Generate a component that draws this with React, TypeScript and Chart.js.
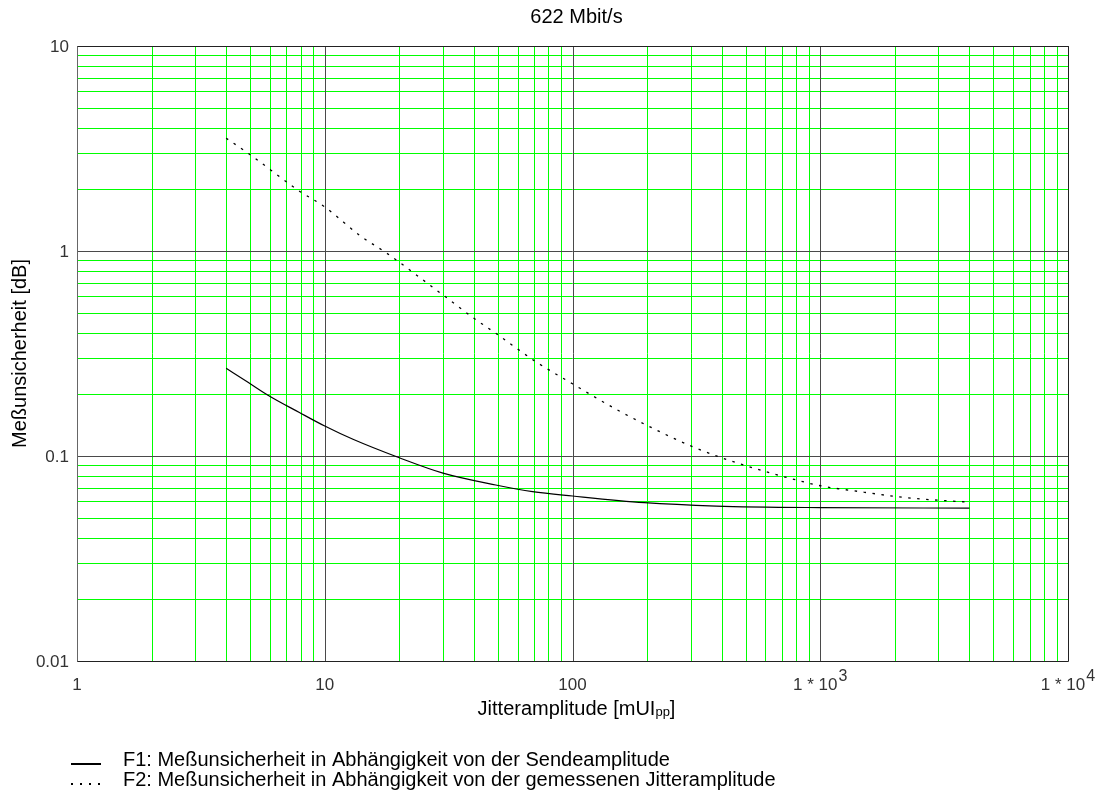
import { useEffect, useRef } from "react";
import { Chart, registerables } from "chart.js";

Chart.register(...registerables);

// ---- data ----
const titleText = "622 Mbit/s";
const yAxisTitle = "Meßunsicherheit [dB]";
const xAxisTitleMain = "Jitteramplitude [mUI";
const xAxisTitleSub = "pp";
const xAxisTitleEnd = "]";

const f1Label = "F1: Meßunsicherheit in Abhängigkeit von der Sendeamplitude";
const f2Label = "F2: Meßunsicherheit in Abhängigkeit von der gemessenen Jitteramplitude";

const f1X = [4, 4.9, 5.9, 7.9, 10, 13, 20, 30, 49, 69, 100, 195, 380, 1000, 4000];
const f1Y = [0.268, 0.229, 0.198, 0.163, 0.14, 0.1206, 0.098, 0.0825, 0.0722, 0.067, 0.0638, 0.0592, 0.057, 0.056, 0.0557];

const f2X = [4, 5, 7.8, 10, 14, 17.7, 30, 40, 50, 70, 100, 150, 200, 300, 400, 600, 850, 1000, 1500, 2200, 4000];
const f2Y = [3.55, 2.95, 1.98, 1.64, 1.18, 0.98, 0.61, 0.47, 0.39, 0.292, 0.225, 0.169, 0.141, 0.112, 0.098, 0.084, 0.075, 0.0716, 0.0666, 0.0627, 0.0595];

const xDecades = [1, 10, 100, 1000, 10000];
const yDecades = [0.01, 0.1, 1, 10];
const gridMultipliers = [2, 3, 4, 5, 6, 7, 8, 9];

const xTickText = ["1", "10", "100", "1 * 10", "1 * 10"];
const xTickExp = ["", "", "", "3", "4"];
const yTickText = ["0.01", "0.1", "1", "10"];

// ---- helpers ----
const FONT = '"Liberation Sans", Arial, sans-serif';
const MINOR_COLOR = "#00ff00";
const MAJOR_COLOR = "#4a4a4a";

function minorValues(decades: number[]): number[] {
  const out: number[] = [];
  for (let i = 0; i < decades.length - 1; i++) {
    for (const m of gridMultipliers) out.push(decades[i] * m);
  }
  return out;
}

const gridPlugin = {
  id: "customGrid",
  beforeDatasetsDraw(chart: any) {
    const ctx: CanvasRenderingContext2D = chart.ctx;
    const xs = chart.scales.x;
    const ys = chart.scales.y;
    const ca = chart.chartArea;
    const al = (p: number) => Math.round(p) + 0.5;
    ctx.save();
    ctx.lineWidth = 1;
    // minor
    ctx.strokeStyle = MINOR_COLOR;
    ctx.beginPath();
    for (const v of minorValues(xDecades)) {
      const p = al(xs.getPixelForValue(v));
      ctx.moveTo(p, ca.top);
      ctx.lineTo(p, ca.bottom);
    }
    for (const v of minorValues(yDecades)) {
      const p = al(ys.getPixelForValue(v));
      ctx.moveTo(ca.left, p);
      ctx.lineTo(ca.right, p);
    }
    ctx.stroke();
    // major
    ctx.strokeStyle = MAJOR_COLOR;
    ctx.beginPath();
    for (const v of xDecades) {
      const p = al(xs.getPixelForValue(v));
      ctx.moveTo(p, ca.top);
      ctx.lineTo(p, ca.bottom);
    }
    for (const v of yDecades) {
      const p = al(ys.getPixelForValue(v));
      ctx.moveTo(ca.left, p);
      ctx.lineTo(ca.right, p);
    }
    ctx.stroke();
    // frame
    ctx.strokeStyle = "#222";
    ctx.beginPath();
    const l = al(ca.left), r = al(ca.right), t = al(ca.top), b = al(ca.bottom);
    ctx.moveTo(l, t);
    ctx.lineTo(r, t);
    ctx.moveTo(r, t);
    ctx.lineTo(r, b);
    ctx.moveTo(l, b);
    ctx.lineTo(r, b);
    ctx.stroke();
    ctx.strokeStyle = "#666";
    ctx.beginPath();
    ctx.moveTo(l, t);
    ctx.lineTo(l, b);
    ctx.stroke();
    ctx.restore();
  },
};

const labelsPlugin = {
  id: "customLabels",
  afterDraw(chart: any) {
    const ctx: CanvasRenderingContext2D = chart.ctx;
    const xs = chart.scales.x;
    const ys = chart.scales.y;
    const ca = chart.chartArea;
    const cx = (ca.left + ca.right) / 2 + 4;
    ctx.save();

    // title
    ctx.fillStyle = "#000";
    ctx.font = `20px ${FONT}`;
    ctx.textAlign = "center";
    ctx.textBaseline = "alphabetic";
    ctx.fillText(titleText, cx, 23);

    // y ticks
    ctx.fillStyle = "#333";
    ctx.font = `17px ${FONT}`;
    ctx.textAlign = "right";
    ctx.textBaseline = "middle";
    yDecades.forEach((v, i) => {
      ctx.fillText(yTickText[i], ca.left - 8, ys.getPixelForValue(v) + 1);
    });

    // x ticks
    ctx.textAlign = "left";
    ctx.textBaseline = "alphabetic";
    xDecades.forEach((v, i) => {
      const px = xs.getPixelForValue(v);
      ctx.font = `17px ${FONT}`;
      const w1 = ctx.measureText(xTickText[i]).width;
      let w2 = 0;
      if (xTickExp[i]) {
        ctx.font = `16px ${FONT}`;
        w2 = ctx.measureText(xTickExp[i]).width + 1;
      }
      const start = px - (w1 + w2) / 2;
      ctx.font = `17px ${FONT}`;
      ctx.fillText(xTickText[i], start, 690);
      if (xTickExp[i]) {
        ctx.font = `16px ${FONT}`;
        ctx.fillText(xTickExp[i], start + w1 + 1, 681);
      }
    });

    // x axis title with subscript
    ctx.fillStyle = "#000";
    ctx.font = `20px ${FONT}`;
    const wa = ctx.measureText(xAxisTitleMain).width;
    const wc = ctx.measureText(xAxisTitleEnd).width;
    ctx.font = `13px ${FONT}`;
    const wb = ctx.measureText(xAxisTitleSub).width;
    const sx = cx - (wa + wb + wc) / 2;
    ctx.font = `20px ${FONT}`;
    ctx.fillText(xAxisTitleMain, sx, 715);
    ctx.font = `13px ${FONT}`;
    ctx.fillText(xAxisTitleSub, sx + wa, 716);
    ctx.font = `20px ${FONT}`;
    ctx.fillText(xAxisTitleEnd, sx + wa + wb, 715);

    // y axis title
    ctx.save();
    ctx.translate(20, (ca.top + ca.bottom) / 2);
    ctx.rotate(-Math.PI / 2);
    ctx.textAlign = "center";
    ctx.textBaseline = "middle";
    ctx.font = `20px ${FONT}`;
    ctx.fillText(yAxisTitle, 0, 0);
    ctx.restore();

    // legend
    ctx.strokeStyle = "#000";
    ctx.lineWidth = 2;
    ctx.setLineDash([]);
    ctx.beginPath();
    ctx.moveTo(71, 764);
    ctx.lineTo(101, 764);
    ctx.stroke();
    ctx.setLineDash([2, 7]);
    ctx.beginPath();
    ctx.moveTo(71, 784);
    ctx.lineTo(101, 784);
    ctx.stroke();
    ctx.setLineDash([]);
    ctx.fillStyle = "#000";
    ctx.font = `20px ${FONT}`;
    ctx.textAlign = "left";
    ctx.textBaseline = "alphabetic";
    ctx.fillText(f1Label, 123, 766);
    ctx.fillText(f2Label, 123, 786);

    ctx.restore();
  },
};

export default function App() {
  const canvasRef = useRef<HTMLCanvasElement | null>(null);

  useEffect(() => {
    if (!canvasRef.current) return;
    const chart = new Chart(canvasRef.current, {
      type: "line",
      data: {
        datasets: [
          {
            label: f1Label,
            data: f1X.map((x, i) => ({ x, y: f1Y[i] })),
            borderColor: "#000",
            borderWidth: 1.2,
            pointRadius: 0,
            cubicInterpolationMode: "monotone",
            fill: false,
          },
          {
            label: f2Label,
            data: f2X.map((x, i) => ({ x, y: f2Y[i] })),
            borderColor: "#000",
            borderWidth: 1.3,
            borderDash: [2.5, 6.5],
            pointRadius: 0,
            cubicInterpolationMode: "monotone",
            fill: false,
          },
        ],
      },
      options: {
        animation: false,
        responsive: false,
        devicePixelRatio: 1,
        events: [],
        layout: { padding: { left: 77, right: 32, top: 46, bottom: 143 } },
        plugins: {
          legend: { display: false },
          title: { display: false },
          tooltip: { enabled: false },
        },
        scales: {
          x: {
            type: "logarithmic",
            min: 1,
            max: 10000,
            ticks: { display: false },
            grid: { display: false, drawTicks: false },
            border: { display: false },
          },
          y: {
            type: "logarithmic",
            min: 0.01,
            max: 10,
            ticks: { display: false },
            grid: { display: false, drawTicks: false },
            border: { display: false },
          },
        },
      },
      plugins: [gridPlugin, labelsPlugin],
    } as any);
    return () => chart.destroy();
  }, []);

  return (
    <div style={{ position: "absolute", left: 0, top: 0, width: 1100, height: 804, background: "#fff" }}>
      <canvas ref={canvasRef} width={1100} height={804} />
    </div>
  );
}
